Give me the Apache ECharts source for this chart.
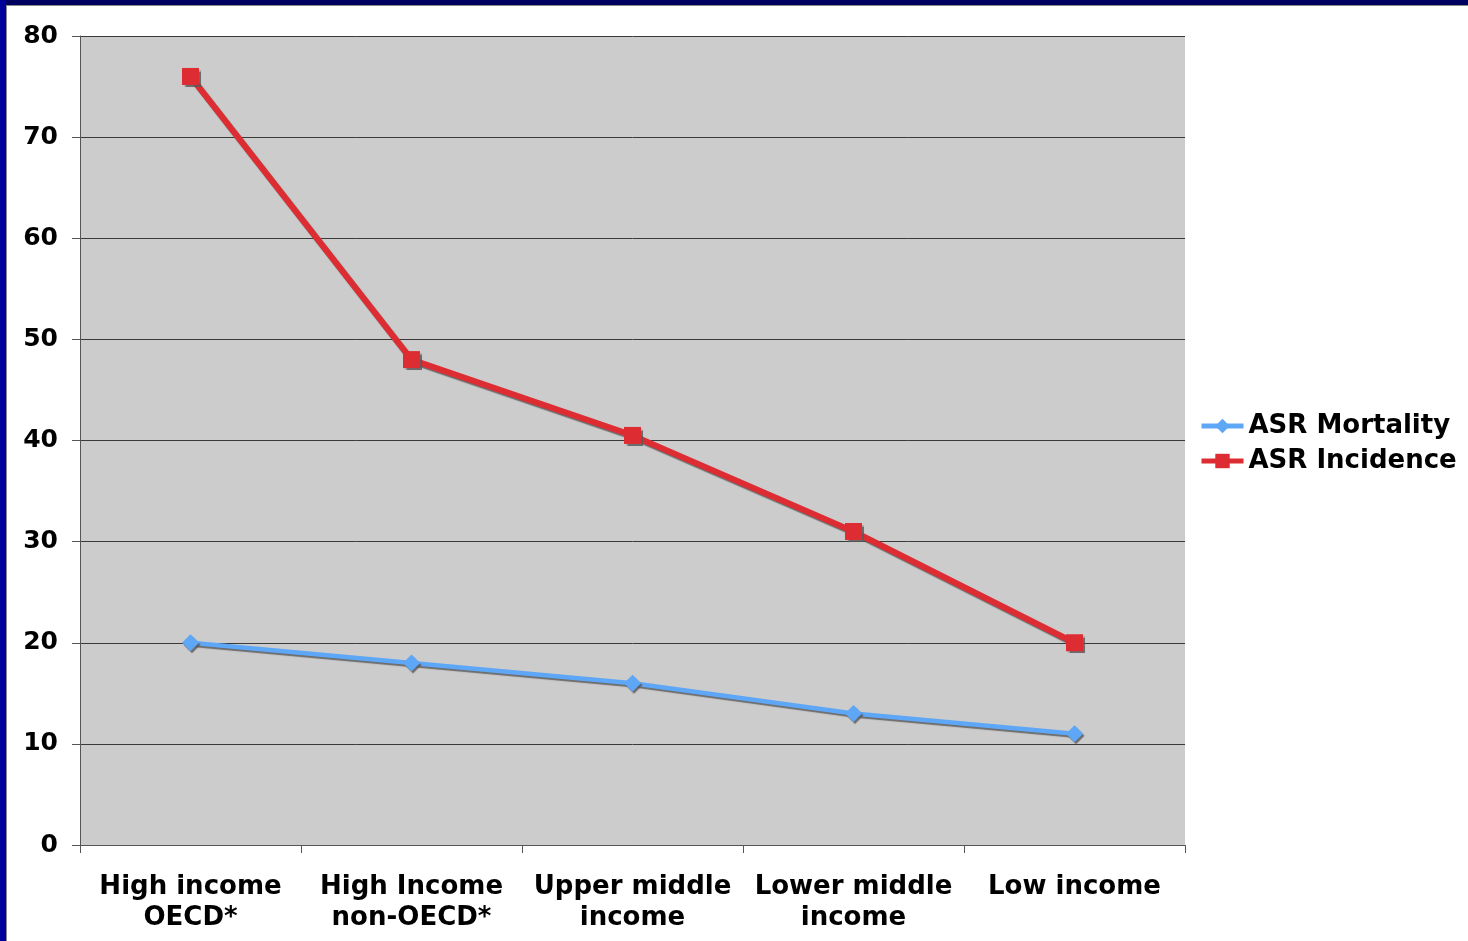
<!DOCTYPE html>
<html>
<head>
<meta charset="utf-8">
<style>
  html, body { margin: 0; padding: 0; background: #ffffff; }
  #chart { width: 1468px; height: 941px; }
</style>
<script src="https://cdn.jsdelivr.net/npm/echarts@6/dist/echarts.min.js"></script>
</head>
<body>
<div id="chart"></div>
<script>
// Income groups along the horizontal axis
const categories = [
  'High income\nOECD*',
  'High Income\nnon-OECD*',
  'Upper middle\nincome',
  'Lower middle\nincome',
  'Low income'
];
// Age-standardised rates per income group
const mortality = [20, 18, 16, 13, 11];
const incidence = [76, 48, 40.5, 31, 20];
const seriesNames = ['ASR Mortality', 'ASR Incidence'];
// Value axis range
const yMin = 0, yMax = 80, yStep = 10;

const FONT = '"DejaVu Sans", Verdana, sans-serif';
const BLUE = '#5ea6f6';
const RED = '#de2c33';
const chart = echarts.init(document.getElementById('chart'), null, { renderer: 'canvas' });

const lineShadow = {
  shadowColor: 'rgba(90,90,90,0.85)',
  shadowBlur: 1,
  shadowOffsetX: 1.5,
  shadowOffsetY: 2
};

chart.setOption({
  backgroundColor: '#ffffff',
  animation: false,
  graphic: [
    { type: 'rect', shape: { x: 0, y: 0, width: 1468, height: 5 }, style: { fill: '#000060' }, z: 100 },
    { type: 'rect', shape: { x: 0, y: 5, width: 1468, height: 1 }, style: { fill: '#8a8a8a' }, z: 100 },
    { type: 'rect', shape: { x: 0, y: 0, width: 6, height: 941 }, style: { fill: '#00009a' }, z: 101 },
    { type: 'rect', shape: { x: 6, y: 6, width: 1, height: 935 }, style: { fill: '#8a8a8a' }, z: 101 }
  ],
  grid: {
    left: 80, top: 36, width: 1105, height: 809,
    show: true, backgroundColor: '#cccccc', borderWidth: 0
  },
  legend: {
    orient: 'vertical',
    left: 1194, top: 408,
    itemWidth: 42, itemHeight: 18, itemGap: 9,
    textStyle: { fontFamily: FONT, fontWeight: 'bold', fontSize: 26, color: '#000' },
    data: [
      { name: seriesNames[0], lineStyle: { width: 5, color: BLUE } },
      { name: seriesNames[1], lineStyle: { width: 5, color: RED } }
    ]
  },
  xAxis: {
    type: 'category',
    data: categories,
    boundaryGap: true,
    axisLine: { show: true, lineStyle: { color: '#555', width: 1 } },
    axisTick: { show: true, inside: false, length: 8, alignWithLabel: false, lineStyle: { color: '#555' } },
    axisLabel: {
      interval: 0, margin: 27,
      fontFamily: FONT, fontWeight: 'bold', fontSize: 26, lineHeight: 31, color: '#000'
    },
    splitLine: { show: false }
  },
  yAxis: {
    type: 'value',
    min: yMin, max: yMax, interval: yStep,
    axisLine: { show: true, lineStyle: { color: '#555', width: 1 } },
    axisTick: { show: true, inside: false, length: 8, lineStyle: { color: '#555' } },
    axisLabel: {
      margin: 22,
      fontFamily: FONT, fontWeight: 'bold', fontSize: 25, color: '#000',
      padding: [3, 0, 0, 0]
    },
    splitLine: { show: true, lineStyle: { color: '#3a3a3a', width: 1 } }
  },
  series: [
    {
      name: seriesNames[0],
      type: 'line',
      data: mortality,
      symbol: 'diamond',
      symbolSize: 17,
      color: BLUE,
      lineStyle: Object.assign({ width: 4.5, color: BLUE }, lineShadow),
      itemStyle: Object.assign({ color: BLUE }, lineShadow),
      z: 3
    },
    {
      name: seriesNames[1],
      type: 'line',
      data: incidence,
      symbol: 'rect',
      symbolSize: 17,
      color: RED,
      lineStyle: Object.assign({ width: 6, color: RED }, lineShadow),
      itemStyle: Object.assign({ color: RED }, lineShadow),
      z: 4
    }
  ]
});
</script>
</body>
</html>
